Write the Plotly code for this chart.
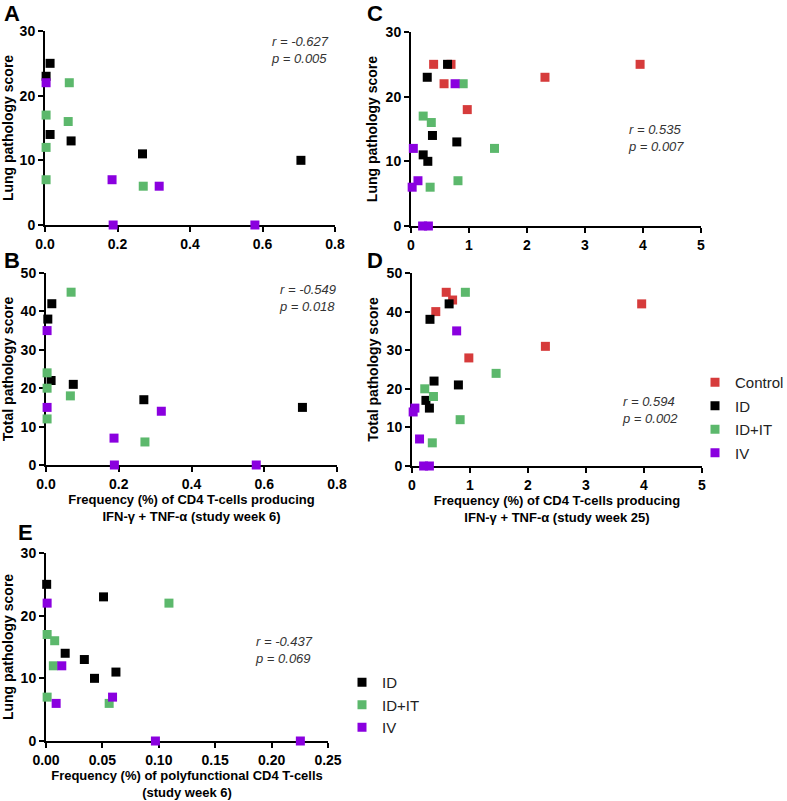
import plotly.graph_objects as go

W, H = 787, 801

# ---------------- data ----------------
groups = ["Control", "ID", "ID+IT", "IV"]
colors = {"Control": "#D63B3B", "ID": "#000000", "ID+IT": "#5CB86C", "IV": "#8A00DF"}

# Panel A: week 6 IFN-g+TNF-a vs lung pathology
A_ID_x = [0.014, 0.003, 0.014, 0.072, 0.269, 0.706]
A_ID_y = [25, 23, 14, 13, 11, 10]
A_IDIT_x = [0.067, 0.064, 0.003, 0.003, 0.003, 0.271]
A_IDIT_y = [22, 16, 17, 12, 7, 6]
A_IV_x = [0.003, 0.185, 0.315, 0.188, 0.579]
A_IV_y = [22, 7, 6, 0, 0]

# Panel B: week 6 vs total pathology
B_ID_x = [0.016, 0.005, 0.014, 0.075, 0.269, 0.705]
B_ID_y = [42, 38, 22, 21, 17, 15]
B_IDIT_x = [0.069, 0.003, 0.003, 0.067, 0.003, 0.272]
B_IDIT_y = [45, 24, 20, 18, 12, 6]
B_IV_x = [0.003, 0.003, 0.317, 0.187, 0.188, 0.578]
B_IV_y = [35, 15, 14, 7, 0, 0]

# Panel C: week 25 vs lung pathology
C_Control_x = [0.39, 0.69, 0.57, 2.31, 3.95, 0.97]
C_Control_y = [25, 25, 22, 23, 25, 18]
C_ID_x = [0.63, 0.28, 0.37, 0.21, 0.29, 0.79]
C_ID_y = [25, 23, 14, 11, 10, 13]
C_IDIT_x = [0.90, 0.21, 0.35, 1.44, 0.81, 0.33]
C_IDIT_y = [22, 17, 16, 12, 7, 6]
C_IV_x = [0.76, 0.04, 0.12, 0.02, 0.20, 0.30]
C_IV_y = [22, 12, 7, 6, 0, 0]

# Panel D: week 25 vs total pathology
D_Control_x = [0.59, 0.70, 0.41, 3.96, 2.30, 0.98]
D_Control_y = [45, 43, 40, 42, 31, 28]
D_ID_x = [0.64, 0.31, 0.38, 0.80, 0.24, 0.30]
D_ID_y = [42, 38, 22, 21, 17, 15]
D_IDIT_x = [0.92, 1.45, 0.22, 0.37, 0.83, 0.35]
D_IDIT_y = [45, 24, 20, 18, 12, 6]
D_IV_x = [0.77, 0.05, 0.02, 0.13, 0.20, 0.30]
D_IV_y = [35, 15, 14, 7, 0, 0]

# Panel E: polyfunctional week 6 vs lung pathology
E_ID_x = [0.0006, 0.051, 0.017, 0.034, 0.043, 0.062]
E_ID_y = [25, 23, 14, 13, 10, 11]
E_IDIT_x = [0.109, 0.001, 0.0077, 0.0065, 0.001, 0.056]
E_IDIT_y = [22, 17, 16, 12, 7, 6]
E_IV_x = [0.001, 0.014, 0.009, 0.059, 0.097, 0.2255]
E_IV_y = [22, 12, 6, 7, 0, 0]

stats = {
    "A": ("-0.627", "0.005"),
    "B": ("-0.549", "0.018"),
    "C": ("0.535", "0.007"),
    "D": ("0.594", "0.002"),
    "E": ("-0.437", "0.069"),
}

# ---------------- layout helpers ----------------
def fx(px):
    return px / W

def fy(py):
    return 1 - py / H

# panel boxes in pixels: (x0, x1, ytop, ybottom)
boxes = {
    "A": (45, 335, 31, 225),
    "B": (46, 337, 273, 465),
    "C": (411, 701, 32, 226),
    "D": (412, 702, 273, 466),
    "E": (46, 328, 553, 741),
}
axis_ids = {"A": "", "B": "2", "C": "3", "D": "4", "E": "5"}

FONT = "Liberation Sans, Arial, sans-serif"

fig = go.Figure()

panel_series = {
    "A": [("ID", A_ID_x, A_ID_y), ("ID+IT", A_IDIT_x, A_IDIT_y), ("IV", A_IV_x, A_IV_y)],
    "B": [("ID", B_ID_x, B_ID_y), ("ID+IT", B_IDIT_x, B_IDIT_y), ("IV", B_IV_x, B_IV_y)],
    "C": [("Control", C_Control_x, C_Control_y), ("ID", C_ID_x, C_ID_y),
          ("ID+IT", C_IDIT_x, C_IDIT_y), ("IV", C_IV_x, C_IV_y)],
    "D": [("Control", D_Control_x, D_Control_y), ("ID", D_ID_x, D_ID_y),
          ("ID+IT", D_IDIT_x, D_IDIT_y), ("IV", D_IV_x, D_IV_y)],
    "E": [("ID", E_ID_x, E_ID_y), ("ID+IT", E_IDIT_x, E_IDIT_y), ("IV", E_IV_x, E_IV_y)],
}

for p, series in panel_series.items():
    aid = axis_ids[p]
    for g, xs, ys in series:
        show = p in ("D", "E")
        fig.add_trace(go.Scatter(
            x=xs, y=ys, mode="markers", name=g,
            marker=dict(symbol="square", size=9, color=colors[g]),
            xaxis="x" + aid, yaxis="y" + aid,
            cliponaxis=False,
            showlegend=show,
            legend="legend" if p == "D" else "legend2",
            legendgroup=p + g,
            hoverinfo="skip",
        ))

axis_common = dict(
    showline=True, linecolor="black", linewidth=2,
    ticks="outside", ticklen=5, tickwidth=2, tickcolor="black",
    showgrid=False, zeroline=False, layer="below traces", automargin=False,
    tickfont=dict(family=FONT, size=14, color="black", weight="bold"),
)

xt_font = dict(family=FONT, size=13, color="black", weight="bold")
xcfg = {
    "A": dict(range=[0, 0.8], tickvals=[0, 0.2, 0.4, 0.6, 0.8], tickformat=".1f"),
    "B": dict(range=[0, 0.8], tickvals=[0, 0.2, 0.4, 0.6, 0.8], tickformat=".1f",
              title=dict(text="Frequency (%) of CD4 T-cells producing<br>IFN-γ + TNF-α (study week 6)",
                         standoff=4, font=xt_font)),
    "C": dict(range=[0, 5], tickvals=[0, 1, 2, 3, 4, 5]),
    "D": dict(range=[0, 5], tickvals=[0, 1, 2, 3, 4, 5],
              title=dict(text="Frequency (%) of CD4 T-cells producing<br>IFN-γ + TNF-α (study week 25)",
                         standoff=4, font=xt_font)),
    "E": dict(range=[0, 0.25], tickvals=[0, 0.05, 0.1, 0.15, 0.2, 0.25], tickformat=".2f",
              title=dict(text="Frequency (%) of polyfunctional CD4 T-cells<br>(study week 6)",
                         standoff=4, font=xt_font)),
}
ytitle_font = dict(family=FONT, size=14, color="black", weight="bold")
ycfg = {
    "A": dict(range=[0, 30], tickvals=[0, 10, 20, 30],
              title=dict(text="Lung pathology score", standoff=5, font=ytitle_font)),
    "B": dict(range=[0, 50], tickvals=[0, 10, 20, 30, 40, 50],
              title=dict(text="Total pathology score", standoff=5, font=ytitle_font)),
    "C": dict(range=[0, 30], tickvals=[0, 10, 20, 30],
              title=dict(text="Lung pathology score", standoff=5, font=ytitle_font)),
    "D": dict(range=[0, 50], tickvals=[0, 10, 20, 30, 40, 50],
              title=dict(text="Total pathology score", standoff=5, font=ytitle_font)),
    "E": dict(range=[0, 30], tickvals=[0, 10, 20, 30],
              title=dict(text="Lung pathology score", standoff=5, font=ytitle_font)),
}

layout = dict(
    width=W, height=H, margin=dict(l=0, r=0, t=0, b=0, autoexpand=False),
    paper_bgcolor="white", plot_bgcolor="white",
    font=dict(family=FONT, color="black"),
)
for p, (x0, x1, yt, yb) in boxes.items():
    aid = axis_ids[p]
    layout["xaxis" + aid] = dict(domain=[fx(x0), fx(x1)], anchor="y" + aid, **axis_common, **xcfg[p])
    layout["yaxis" + aid] = dict(domain=[fy(yb), fy(yt)], anchor="x" + aid, **axis_common, **ycfg[p])

layout["legend"] = dict(
    x=fx(695), y=fy(366), xanchor="left", yanchor="top",
    font=dict(family=FONT, size=15, color="#222222"),
    itemwidth=30, tracegroupgap=1, bgcolor="rgba(0,0,0,0)",
)
layout["legend2"] = dict(
    x=fx(342), y=fy(666), xanchor="left", yanchor="top",
    font=dict(family=FONT, size=15, color="#222222"),
    itemwidth=30, tracegroupgap=0, bgcolor="rgba(0,0,0,0)",
)
fig.update_layout(**layout)

# panel letters
letters = {"A": (12, 13), "B": (12, 260), "C": (375, 13), "D": (375, 260), "E": (25, 532)}
for L, (px, py) in letters.items():
    fig.add_annotation(text=L, x=fx(px), y=fy(py), xref="paper", yref="paper",
                       showarrow=False, xanchor="center", yanchor="middle",
                       font=dict(family=FONT, size=22, color="black", weight="bold"))

# r/p annotations (left edge, vertical centre in px)
stat_pos = {"A": (269, 50), "B": (277, 298), "C": (626, 138), "D": (620, 410), "E": (253, 650)}
for p, (px, py) in stat_pos.items():
    r, pv = stats[p]
    fig.add_annotation(text=f"r = {r}<br>p = {pv}", x=fx(px), y=fy(py),
                       xref="paper", yref="paper", showarrow=False,
                       xanchor="left", yanchor="middle", align="left",
                       font=dict(family=FONT, size=13, color="#333333", style="italic"))

fig.write_html("out.html", config={"displayModeBar": False})

# remove the browser's default page margin so the figure sits at the window origin
with open("out.html", "r", encoding="utf-8") as f:
    html = f.read()
html = html.replace("<head>", "<head><style>html,body{margin:0;padding:0;overflow:hidden;}</style>", 1)
with open("out.html", "w", encoding="utf-8") as f:
    f.write(html)
